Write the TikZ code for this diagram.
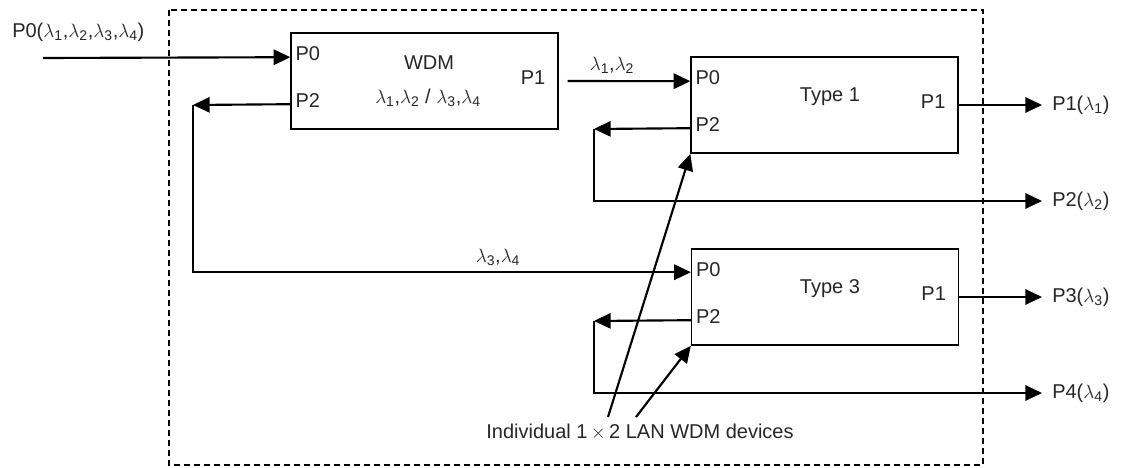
\documentclass[tikz,border=0pt]{standalone}
\usepackage{fontspec}
\setmainfont{Liberation Sans}
\usepackage{tikz}
\usetikzlibrary{arrows.meta,positioning,calc}
\newcommand{\lam}[1]{$\lambda$\textsubscript{#1}}
\tikzstyle{arrow} = [line width=1.6pt,-{Triangle[length=12.5pt,width=11.5pt]}]
\tikzstyle{device} = [rectangle, draw, line width=1.2pt, minimum width=200pt, minimum height=72pt, inner sep=0pt]

\begin{document}
\begin{tikzpicture}[x=0.75pt, y=-0.75pt,
    lbl/.style={inner sep=0pt, text=black!85, font=\fontsize{15pt}{17pt}\selectfont},
    line/.style={line width=1.6pt}]
\useasboundingbox (0,0) rectangle (1122,468);

% Outer frame
\draw[line width=1.2pt, dash pattern=on 4.5pt off 3pt] (169,10) rectangle (983,465);

% Devices
\node[device] (wdm) at (424.5,81) {};
\node[device] (typeone) at (824.5,105) {};
\node[device] (typethree) at (825,297) {};

% Device texts
\node[lbl] (wdmname) at (429,63) {WDM};
\node[lbl] (wdmband) at (428,98) {\lam{1},\lam{2} / \lam{3},\lam{4}};
\node[lbl] (onename) at (830,97) {Type 1};
\node[lbl] (threename) at (830,289) {Type 3};

% Port labels
\foreach \dev in {wdm,typeone,typethree} {
  \node[lbl, anchor=west] (\dev-p0) at ($(\dev.north west)+(5,21)$) {P0};
  \node[lbl, anchor=west] (\dev-p2) at ($(\dev.north west)+(5,68)$) {P2};
  \node[lbl, anchor=east] (\dev-p1) at ($(\dev.east)+(-13,-3)$) {P1};
}

% Port points
\coordinate (wdmin) at ($(wdm.north west)+(0,25)$);
\coordinate (wdmdrop) at ($(wdm.north west)+(0,72)$);
\coordinate (wdmout) at ($(wdm.east)+(9,0)$);
\coordinate (onein) at ($(typeone.north west)+(0,25)$);
\coordinate (onedrop) at ($(typeone.north west)+(0,72)$);
\coordinate (threein) at ($(typethree.north west)+(0,24)$);
\coordinate (threedrop) at ($(typethree.north west)+(0,72)$);

% Free ends
\coordinate (src) at (43,58);
\coordinate (bendwdm) at (193,105);
\coordinate (bendone) at (594,129);
\coordinate (bendthree) at (594,321);
\coordinate (outone) at (1042,105);
\coordinate (outtwo) at (1042,201);
\coordinate (outthree) at (1042,297);
\coordinate (outfour) at (1042,393);

% Signal paths
\draw[arrow] (src) -- (wdmin);
\draw[arrow] (wdmout) -- (onein);
\draw[arrow] (wdmdrop) -- (bendwdm);
\draw[arrow] (bendwdm) |- (threein);
\draw[arrow] (onedrop) -- (bendone);
\draw[arrow] (bendone) |- (outtwo);
\draw[arrow] (threedrop) -- (bendthree);
\draw[arrow] (bendthree) |- (outfour);
\draw[arrow] (typeone.east) -- (outone);
\draw[arrow] (typethree.east) -- (outthree);

% Signal labels
\node[lbl, anchor=west] (inlabel) at (12,32) {P0(\lam{1},\lam{2},\lam{3},\lam{4})};
\node[lbl] (passlabel) at (612,65) {\lam{1},\lam{2}};
\node[lbl] (droplabel) at (498,257) {\lam{3},\lam{4}};
\node[lbl, anchor=west] (p1label) at (1052,105) {P1(\lam{1})};
\node[lbl, anchor=west] (p2label) at (1052,201) {P2(\lam{2})};
\node[lbl, anchor=west] (p3label) at (1052,297) {P3(\lam{3})};
\node[lbl, anchor=west] (p4label) at (1052,393) {P4(\lam{4})};

% Note
\node[lbl] (note) at (640,432) {Individual 1\,$\times$\,2 LAN WDM devices};
\coordinate (notea) at (608,417);
\coordinate (noteb) at (636,417);
\draw[arrow] (notea) -- (typeone.south west);
\draw[arrow] (noteb) -- (typethree.south west);
\end{tikzpicture}
\end{document}
